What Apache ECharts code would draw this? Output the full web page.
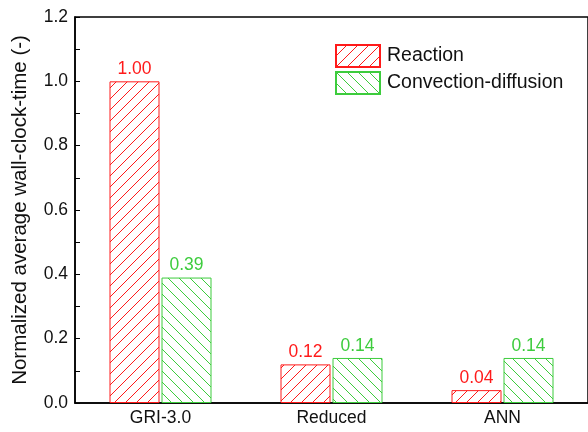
<!DOCTYPE html>
<html><head><meta charset="utf-8">
<script src="https://cdn.jsdelivr.net/npm/echarts@6/dist/echarts.min.js"></script>
<style>html,body{margin:0;padding:0;background:#fff}#c{width:588px;height:432px}</style>
</head><body><div id="c"></div>
<script>
var categories = ['GRI-3.0', 'Reduced', 'ANN'];
var reaction = [1.00, 0.12, 0.04];
var convection = [0.39, 0.14, 0.14];
var seriesNames = ['Reaction', 'Convection-diffusion'];
var yTicks = [0, 0.2, 0.4, 0.6, 0.8, 1.0, 1.2];

var RED = '#ff1a1a', GREEN = '#3dcc3d';
function hatch(color, dir) {
  var s = 11, c = document.createElement('canvas');
  c.width = s; c.height = s;
  var g = c.getContext('2d');
  g.fillStyle = '#fff'; g.fillRect(0, 0, s, s);
  g.strokeStyle = color; g.lineWidth = 1;
  g.beginPath();
  if (dir > 0) {
    g.moveTo(-2, s + 2); g.lineTo(s + 2, -2);
    g.moveTo(-2, 2); g.lineTo(2, -2);
    g.moveTo(s - 2, s + 2); g.lineTo(s + 2, s - 2);
  } else {
    g.moveTo(-2, -2); g.lineTo(s + 2, s + 2);
    g.moveTo(s - 2, -2); g.lineTo(s + 2, 2);
    g.moveTo(-2, s - 2); g.lineTo(2, s + 2);
  }
  g.stroke();
  return c;
}
var FONT = '"Liberation Sans", Arial, sans-serif';
var chart = echarts.init(document.getElementById('c'), null, {renderer: 'canvas'});
function mkSeries(name, data, color, dir) {
  return {
    name: name, type: 'bar', data: data, barWidth: 50, barGap: '4%',
    itemStyle: {color: {image: hatch(color, dir), repeat: 'repeat'}, borderColor: color, borderWidth: 1},
    label: {show: true, position: 'top', distance: 3, color: color, fontSize: 17.5, fontFamily: FONT,
      formatter: function (p) { return p.value.toFixed(2); }},
    emphasis: {disabled: true}
  };
}
chart.setOption({
  animation: false,
  backgroundColor: '#fff',
  textStyle: {fontFamily: FONT},
  grid: {left: 75, top: 17, right: -3, bottom: 29, show: true, borderColor: '#000', borderWidth: 1.5, backgroundColor: 'transparent'},
  legend: {
    orient: 'vertical', left: 335, top: 44, padding: 0, itemWidth: 44, itemHeight: 22, itemGap: 3, icon: 'rect',
    textStyle: {fontSize: 19.5, lineHeight: 22, color: '#111', fontFamily: FONT, padding: [0, 0, 0, 2]},
    data: seriesNames, selectedMode: false
  },
  xAxis: {
    type: 'category', data: categories,
    axisLine: {lineStyle: {color: '#000', width: 1.5}},
    axisTick: {show: false},
    axisLabel: {color: '#111', fontSize: 17.5, margin: 6, fontFamily: FONT}
  },
  yAxis: {
    type: 'value', min: yTicks[0], max: yTicks[yTicks.length - 1], interval: 0.2,
    name: 'Normalized average wall-clock-time (-)', nameLocation: 'middle', nameGap: 44,
    nameTextStyle: {fontSize: 20.5, color: '#111', fontFamily: FONT},
    axisLine: {show: true, lineStyle: {color: '#000', width: 1.5}},
    axisTick: {show: true, inside: true, length: 5, lineStyle: {color: '#000', width: 1}},
    minorTick: {show: true, splitNumber: 2, length: 5, lineStyle: {color: '#000', width: 1}},
    splitLine: {show: false},
    axisLabel: {color: '#111', fontSize: 17.5, margin: 7, fontFamily: FONT,
      formatter: function (v) { return v.toFixed(1); }}
  },
  series: [mkSeries(seriesNames[0], reaction, RED, 1), mkSeries(seriesNames[1], convection, GREEN, -1)]
});
</script></body></html>
